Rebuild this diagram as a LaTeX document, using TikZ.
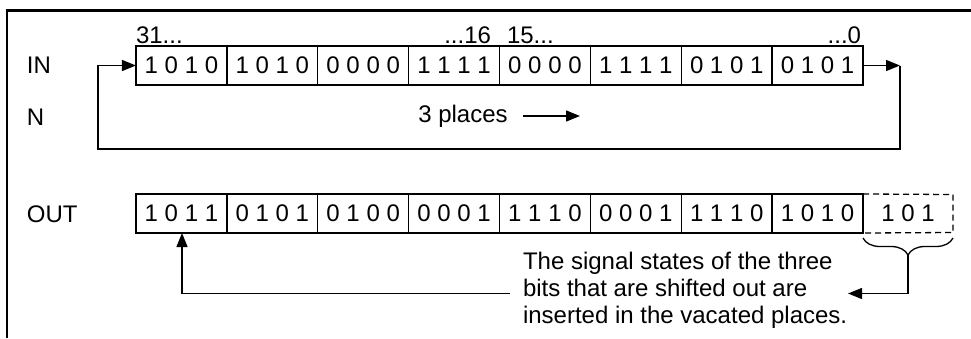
\documentclass[tikz,border=0pt]{standalone}
\usepackage{fontspec}
\setmainfont{Liberation Sans}
\usetikzlibrary{arrows.meta,decorations.pathreplacing}
\begin{document}
\begin{tikzpicture}[x=1pt,y=-1pt,
  every node/.style={font=\fontsize{24}{27}\selectfont, inner sep=0pt, outer sep=0pt},
  bitbox/.style={draw, line width=1.3pt, minimum width=90.9pt, minimum height=39pt},
  conn/.style={line width=1.3pt},
  arr/.style={line width=1.3pt, -{Triangle[length=14pt,width=11pt]}},
  lbl/.style={anchor=west}]
\useasboundingbox (0,0) rectangle (971,338);
% frame
\draw[line width=2.2pt] (7,338) -- (7,10.5) -- (971,10.5);
% row labels
\node[lbl] (lin) at (27,65.5) {IN};
\node[lbl] (ln) at (27,117) {N};
\node[lbl] (lout) at (27,214) {OUT};
% IN boxes
\foreach \t [count=\i] in {1 0 1 0,1 0 1 0,0 0 0 0,1 1 1 1,0 0 0 0,1 1 1 1,0 1 0 1,0 1 0 1}
  \node[bitbox] (in\i) at ({136+90.875*(\i-0.5)},65.5) {\t};
% OUT boxes
\foreach \t [count=\i] in {1 0 1 1,0 1 0 1,0 1 0 0,0 0 0 1,1 1 1 0,0 0 0 1,1 1 1 0,1 0 1 0}
  \node[bitbox] (out\i) at ({136+90.875*(\i-0.5)},213.5) {\t};
\node[minimum width=90pt, minimum height=38pt] (out9) at (908,213.5) {1 0 1};
\draw[line width=1.3pt, dash pattern=on 6pt off 4pt] (out8.north east) -- (out9.north east) -- (out9.south east) -- (out8.south east);
% bit numbers
\node[anchor=base west] (b31) at (136,43) {31...};
\node[anchor=base east] (b16) at (491,43) {...16};
\node[anchor=base west] (b15) at (507,43) {15...};
\node[anchor=base east] (b0) at (861,43) {...0};
% 3 places
\node (pl) at (463,116) {3 places};
\coordinate (pla) at (523,116);
\coordinate (plb) at (580,116);
\draw[arr] (pla) -- (plb);
% loop
\coordinate (rc) at (900,65.5);
\coordinate (lb) at (98,149);
\draw[arr] (in8.east) -- (rc);
\draw[arr] (rc) -- (rc |- lb) -- (lb) -- (lb |- in1.west) -- (in1.west);
% brace
\coordinate (br1) at (863,238);
\coordinate (br2) at (953,238);
\draw[line width=1.3pt, decorate, decoration={brace, mirror, amplitude=17pt}] (br1) -- (br2);
\coordinate (brt) at (908,255);
% explanation
\node[anchor=west, align=left] (txt) at (523,290) {The signal states of the three\\bits that are shifted out are\\inserted in the vacated places.};
\coordinate (ra) at (908,293.5);
\coordinate (rb) at (848,293.5);
\draw[arr] (brt) -- (ra) -- (rb);
\coordinate (la) at (510,293.5);
\coordinate (lc) at (182,293.5);
\draw[arr] (la) -- (lc) -- (lc |- out1.south);
\end{tikzpicture}
\end{document}
